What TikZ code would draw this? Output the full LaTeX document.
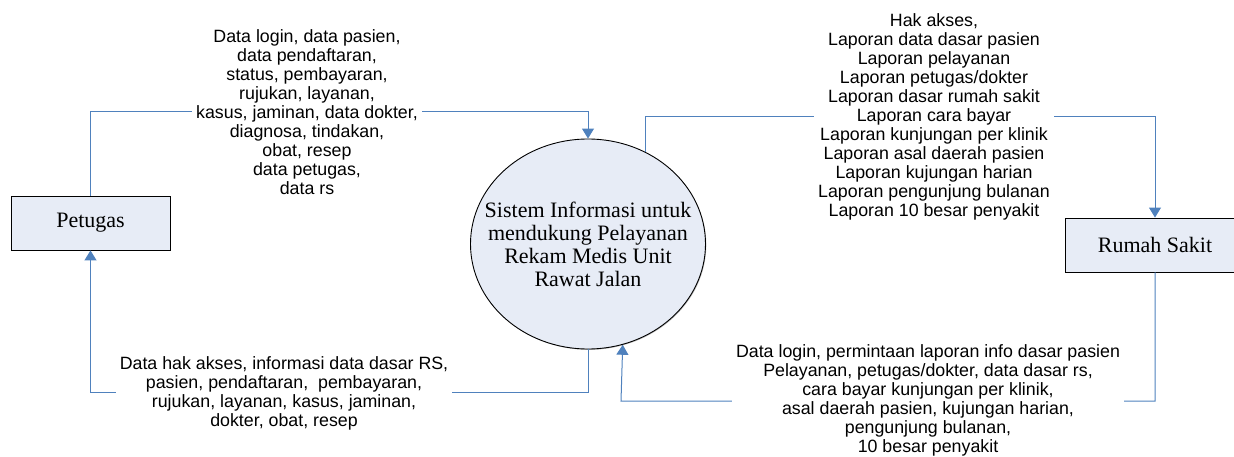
\documentclass[tikz,border=0pt]{standalone}
\usepackage{fontspec}
\setmainfont{Liberation Serif}
\newfontfamily\lblfont{Liberation Sans}
\usetikzlibrary{arrows.meta, positioning, shapes.geometric, shadows}

\definecolor{flowblue}{HTML}{4F81BD}
\definecolor{boxfill}{HTML}{E7ECF6}

\begin{document}
\begin{tikzpicture}[x=1pt, y=-1pt,
  entity/.style={rectangle, draw=black, line width=0.9pt, fill=boxfill, minimum height=54pt,
    drop shadow={shadow xshift=1pt, shadow yshift=-1pt, fill=black!55},
    font=\fontsize{22}{23}\selectfont},
  proc/.style={ellipse, draw=black, line width=0.9pt, fill=boxfill, minimum width=235pt, minimum height=210pt,
    inner xsep=-22pt, inner ysep=0pt, drop shadow={shadow xshift=0.8pt, shadow yshift=-0.8pt, fill=black!55},
    align=center, font=\fontsize{22}{23}\selectfont},
  flow/.style={draw=flowblue, line width=1pt, -{Triangle[width=12pt, length=10pt]}},
  lbl/.style={fill=white, inner xsep=4pt, inner ysep=0pt, align=center, lblfont={}},
  lblfont/.style={font=\lblfont\fontsize{17.8}{19}\selectfont}]

\useasboundingbox (0,0) rectangle (1234,457);

% --- Entities and process ---
\node[entity, minimum width=159pt] (petugas) at (90.5,223) {Petugas};
\node[entity, minimum width=180pt] (rumah) at (1155,245) {Rumah Sakit};
\node[proc] (sistem) at (588,244) {Sistem Informasi untuk\\mendukung Pelayanan\\Rekam Medis Unit\\Rawat Jalan};

% --- Corners of the flows ---
\coordinate (pa) at (90.5,112);
\coordinate (pb) at (588,112);
\coordinate (ra) at (sistem.58.5 |- 0,117);
\coordinate (rb) at (1155,117);
\coordinate (sa) at (588,392);
\coordinate (sb) at (90.5,392);
\coordinate (ka) at (1155,401);
\coordinate (kb) at (621,401);

% --- Flows ---
\draw[flow] (petugas.north) -- (pa) -- (pb) -- (sistem.north);
\draw[flow] (sistem.58.5) -- (ra) -- (rb) -- (rumah.north);
\draw[flow] (sistem.south) -- (sa) -- (sb) -- (petugas.south);
\draw[flow] (rumah.south) -- (ka) -- (kb) -- (sistem.-71.7);

% --- Flow labels ---
\node[lbl] (inpetugas) at (307,112) {Data login, data pasien,\\data pendaftaran,\\status, pembayaran,\\rujukan, layanan,\\kasus, jaminan, data dokter,\\diagnosa, tindakan,\\obat, resep\\data petugas,\\data rs};
\node[lbl] (outrumah) at (934,117) {Hak akses,\\Laporan data dasar pasien\\Laporan pelayanan\\Laporan petugas/dokter\\Laporan dasar rumah sakit\\Laporan cara bayar\\Laporan kunjungan per klinik\\Laporan asal daerah pasien\\Laporan kujungan harian\\Laporan pengunjung bulanan\\Laporan 10 besar penyakit};
\node[lbl] (outpetugas) at (284,393) {Data hak akses, informasi data dasar RS,\\pasien, pendaftaran,\ \ pembayaran,\\rujukan, layanan, kasus, jaminan,\\dokter, obat, resep};
\node[lbl] (inrumah) at (928,400) {Data login, permintaan laporan info dasar pasien\\Pelayanan, petugas/dokter, data dasar rs,\\cara bayar kunjungan per klinik,\\asal daerah pasien, kujungan harian,\\pengunjung bulanan,\\10 besar penyakit};

\end{tikzpicture}
\end{document}
